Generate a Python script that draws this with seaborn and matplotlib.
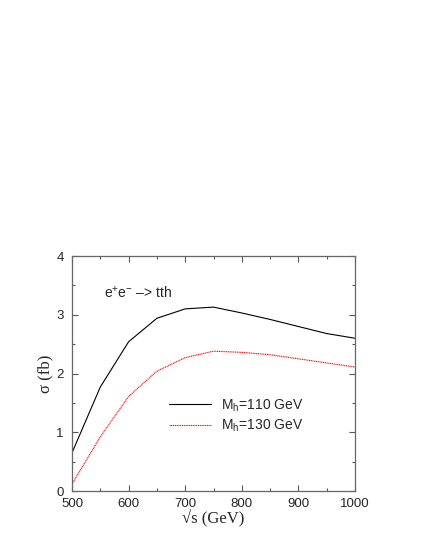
import numpy as np
import pandas as pd
import seaborn as sns
import matplotlib
matplotlib.use('Agg')
import matplotlib.pyplot as plt
from matplotlib.ticker import MultipleLocator

# Cross section for e+e- -> tth vs centre-of-mass energy.
sqrt_s = [500, 550, 600, 650, 700, 750, 800, 850, 900, 950, 1000]
sigma_110 = [0.65, 1.77, 2.54, 2.94, 3.10, 3.13, 3.03, 2.92, 2.80, 2.68, 2.60]
sigma_130 = [0.12, 0.92, 1.61, 2.04, 2.27, 2.38, 2.36, 2.32, 2.25, 2.18, 2.11]
labels = ['M$_{\\mathregular{h}}$=110 GeV', 'M$_{\\mathregular{h}}$=130 GeV']

df = pd.DataFrame({
    'sqrt_s': sqrt_s * 2,
    'sigma': sigma_110 + sigma_130,
    'mass': [labels[0]] * len(sqrt_s) + [labels[1]] * len(sqrt_s),
})

sns.set_style('ticks')
plt.rcParams['font.family'] = ['Liberation Sans', 'DejaVu Sans']
plt.rcParams['mathtext.fontset'] = 'custom'
plt.rcParams['mathtext.rm'] = 'Liberation Sans'

fig = plt.figure(figsize=(4.28, 5.54), dpi=100)
ax = fig.add_axes([72 / 428, 1 - 491 / 554, 283 / 428, 235 / 554])

sns.lineplot(data=df, x='sqrt_s', y='sigma', hue='mass', style='mass',
             palette=['black', 'red'], dashes=[(None, None), (1, 0.6)],
             linewidth=0.8, ax=ax, legend=True)

ax.set_xlim(500, 1000)
ax.set_ylim(0, 4)
ax.xaxis.set_major_locator(MultipleLocator(100))
ax.xaxis.set_minor_locator(MultipleLocator(50))
ax.yaxis.set_major_locator(MultipleLocator(1))
ax.yaxis.set_minor_locator(MultipleLocator(0.5))
ax.tick_params(which='both', direction='in', top=True, right=True,
               labelsize=9.5, color='#555555', width=0.8)
ax.tick_params(axis='x', pad=5)
ax.tick_params(axis='y', pad=6)
ax.tick_params(which='major', length=4)
ax.tick_params(which='minor', length=2)
for sp in ax.spines.values():
    sp.set_color('#666666')
    sp.set_linewidth(0.9)

ax.set_xlabel('\u221as (GeV)', family='Liberation Serif', fontsize=12, labelpad=0)
ax.set_ylabel('\u03c3 (fb)', family='Liberation Serif', fontsize=12, labelpad=2)

ax.text(556, 3.37, 'e$^{+}$e$^{-}$ \u2013> tth', fontsize=10, va='center')

handles, _ = ax.get_legend_handles_labels()
ax.legend(handles, labels, frameon=False, fontsize=10,
          loc='center left', bbox_to_anchor=(0.3, 0.32),
          handlelength=3.0, handletextpad=0.7, labelspacing=0.3)

fig.savefig('out.png', dpi=100)
